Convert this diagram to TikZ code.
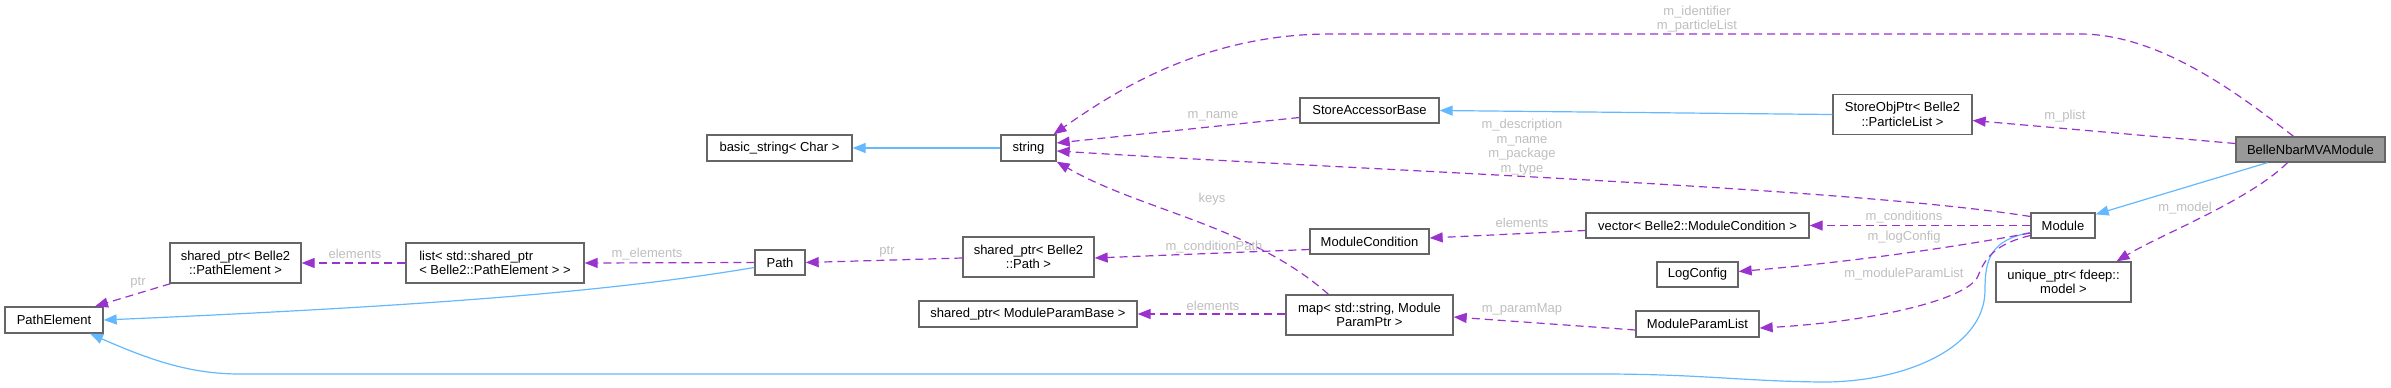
\documentclass[tikz,border=0pt]{standalone}
\usepackage{fontspec}
\setmainfont{Liberation Sans}
\usetikzlibrary{arrows.meta}
\definecolor{edgeblue}{HTML}{63B8FF}
\definecolor{edgepurple}{HTML}{9A32CD}
\definecolor{labelgrey}{HTML}{BEBEBE}
\definecolor{boxgrey}{HTML}{666666}
\definecolor{focusgrey}{HTML}{999999}
\begin{document}
\begin{tikzpicture}[x=1pt, y=-1pt,
  every node/.style={font=\fontsize{13}{14.5}\selectfont},
  cls/.style={draw=boxgrey, line width=1.3pt, fill=white, inner sep=0pt, minimum height=25pt, align=center},
  cls2/.style={cls, minimum height=40pt},
  lbl/.style={text=labelgrey, inner sep=0pt, align=center},
  inh/.style={draw=edgeblue, line width=1.2pt, -{Triangle[length=13pt,width=10pt]}},
  dep/.style={draw=edgepurple, line width=1.2pt, dash pattern=on 8pt off 5pt, -{Triangle[length=13pt,width=10pt]}}]
\useasboundingbox (0,0) rectangle (2391,388);
% classes
\node[cls, fill=focusgrey, minimum width=149pt] (bn) at (2310.5,149.5) {BelleNbarMVAModule};
\node[cls, minimum width=64pt] (mod) at (2063,225.5) {Module};
\node[cls2, minimum width=135pt] (uptr) at (2063.5,282) {unique\_ptr< fdeep::\\model >};
\node[cls2, minimum width=139pt] (sop) at (1902.5,114.5) {StoreObjPtr< Belle2\\::ParticleList >};
\node[cls, minimum width=139pt] (sab) at (1369.5,110.5) {StoreAccessorBase};
\node[cls, minimum width=55pt, minimum height=26pt] (str) at (1028.5,148) {string};
\node[cls, minimum width=145pt, minimum height=26pt] (bstr) at (779.5,148) {basic\_string< Char >};
\node[cls, minimum width=98pt, minimum height=26pt] (pe) at (54,320) {PathElement};
\node[cls2, minimum width=131pt] (spe) at (235.5,263) {shared\_ptr< Belle2\\::PathElement >};
\node[cls2, minimum width=178pt, align=left] (lst) at (495,263) {list< std::shared\_ptr\\< Belle2::PathElement > >};
\node[cls, minimum width=50pt] (pth) at (780,262.5) {Path};
\node[cls2, minimum width=131pt] (spp) at (1028.5,257) {shared\_ptr< Belle2\\::Path >};
\node[cls, minimum width=218pt, minimum height=26pt] (spmpb) at (1028,314) {shared\_ptr< ModuleParamBase >};
\node[cls, minimum width=119pt] (mc) at (1369.5,241.5) {ModuleCondition};
\node[cls2, minimum width=167pt] (map) at (1369.5,315) {map< std::string, Module\\ParamPtr >};
\node[cls, minimum width=223pt] (vec) at (1697.5,225.5) {vector< Belle2::ModuleCondition >};
\node[cls, minimum width=81pt] (lc) at (1697.5,274.5) {LogConfig};
\node[cls, minimum width=123pt, minimum height=26pt] (mpl) at (1697.5,324) {ModuleParamList};
% inheritance
\draw[inh] ([xshift=-43pt]bn.south) -- ([yshift=-2pt]mod.north east);
\draw[inh] (sop.west) -- (sab.east);
\draw[inh] (str.west) -- (bstr.east);
\draw[inh] ([yshift=-5pt]pth.west) .. controls (620,290) and (450,305) .. (pe.east);
\draw[inh] ([yshift=-7pt]mod.west) .. controls (1990,240) and (1985,260) .. (1985,290)
  .. controls (1985,350) and (1900,383) .. (1820,382)
  .. controls (1740,381) and (1700,374) .. (1600,374) -- (240,374)
  .. controls (190,374) and (150,360) .. ([xshift=36pt]pe.south);
% members
\draw[dep] ([xshift=-23pt]bn.south) .. controls (2250,200) and (2160,235) .. ([xshift=53pt]uptr.north);
\draw[dep] ([yshift=6pt]bn.west) -- ([yshift=-6pt]sop.east);
\draw[dep] ([xshift=-17pt]bn.north) .. controls (2240,95) and (2160,34) .. (2080,34) -- (1330,34)
  .. controls (1200,34) and (1110,95) .. ([xshift=25pt]str.north);
\draw[dep] ([yshift=-7pt]sab.west) -- ([yshift=5pt]str.east);
\draw[dep] ([yshift=9pt]mod.west) .. controls (1850,188) and (1400,172) .. ([yshift=-3pt]str.east);
\draw[dep] ([xshift=-41pt]map.north) .. controls (1250,225) and (1140,210) .. (str.south east);
\draw[dep] ([yshift=-5pt]vec.west) -- ([yshift=3.5pt]mc.east);
\draw[dep] ([yshift=-8pt]mc.west) -- ([yshift=-1pt]spp.east);
\draw[dep] ([yshift=-1pt]spp.west) -- (pth.east);
\draw[dep] (pth.west) -- (lst.east);
\draw[dep] (lst.west) -- (spe.east);
\draw[dep] ([xshift=-65pt]spe.south) -- ([xshift=41pt]pe.north);
\draw[dep] (mod.west) -- (vec.east);
\draw[dep] ([yshift=-7.5pt]mod.west) .. controls (1950,248) and (1850,262) .. ([yshift=3pt]lc.east);
\draw[dep] ([yshift=-10pt]mod.west) .. controls (1995,244) and (1985,258) .. (1978,276)
  .. controls (1968,300) and (1870,322) .. ([yshift=-4pt]mpl.east);
\draw[dep] ([yshift=-6pt]mpl.west) -- ([yshift=-2pt]map.east);
\draw[dep] ([yshift=1pt]map.west) -- (spmpb.east);
% labels
\node[lbl] (lmodel) at (2185,208) {m\_model};
\node[lbl] (lplist) at (2065,116) {m\_plist};
\node[lbl] (lident) at (1697,19) {m\_identifier\\m\_particleList};
\node[lbl] (lname) at (1213,116) {m\_name};
\node[lbl] (ldesc) at (1522,147) {m\_description\\m\_name\\m\_package\\m\_type};
\node[lbl] (lkeys) at (1212,199) {keys};
\node[lbl] (lelema) at (1522,223) {elements};
\node[lbl] (lcpath) at (1214,247) {m\_conditionPath};
\node[lbl] (lpmap) at (1522,309) {m\_paramMap};
\node[lbl] (lelemb) at (1213,306) {elements};
\node[lbl] (lptra) at (887,252) {ptr};
\node[lbl] (lmelem) at (647,254) {m\_elements};
\node[lbl] (lelemc) at (355,254) {elements};
\node[lbl] (lptrb) at (138,283) {ptr};
\node[lbl] (lcond) at (1904,217) {m\_conditions};
\node[lbl] (llog) at (1904,237) {m\_logConfig};
\node[lbl] (lmpl) at (1904,274) {m\_moduleParamList};
\end{tikzpicture}
\end{document}
